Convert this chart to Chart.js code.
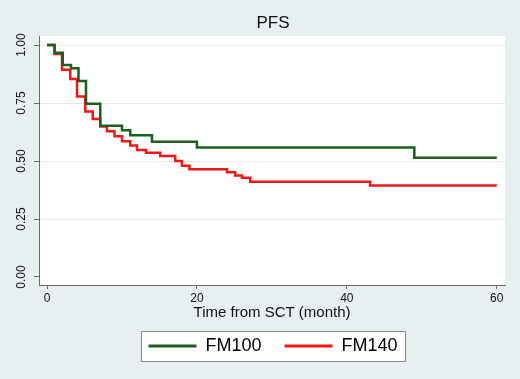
<!DOCTYPE html>
<html>
<head>
<meta charset="utf-8">
<title>PFS</title>
<script src="https://cdn.jsdelivr.net/npm/chart.js@4/dist/chart.umd.min.js"></script>
<style>
	html, body { margin: 0; padding: 0; background: #e8eff1; overflow: hidden; }
	#wrap { width: 520px; height: 379px; position: relative; }
</style>
</head>
<body>
<div id="wrap"><canvas id="chart-pfs"></canvas></div>
<script>
// Kaplan-Meier steps: month of each drop and survival right after it
const FM100_TIME = [0, 1, 2.1, 3.2, 4.2, 5.2, 7.1, 10, 11.1, 14, 20, 49, 60];
const FM100_SURV = [1, 0.967, 0.914, 0.9, 0.845, 0.747, 0.652, 0.633, 0.611, 0.583, 0.558, 0.514, 0.514];

const FM140_TIME = [0, 1, 2, 3.1, 4, 5.1, 6.1, 7.1, 8, 9, 10, 11.1, 12, 13.2, 15.1, 17.1, 18, 19, 24, 25.1, 26, 27.1, 43.1, 60];
const FM140_SURV = [1, 0.961, 0.893, 0.854, 0.778, 0.714, 0.681, 0.649, 0.628, 0.607, 0.585, 0.567, 0.548, 0.536, 0.522, 0.5, 0.48, 0.464, 0.452, 0.438, 0.428, 0.411, 0.395, 0.395];

const X_TICKS = [0, 20, 40, 60];
const Y_TICKS = [0, 0.25, 0.5, 0.75, 1];

const COLORS = {
	GREEN: "#1c5e1c",
	RED: "#f21616",
	TEXT: "#111111",
	AXIS: "#6a6a6a",
	GRID: "#e6eaec",
	BG: "#e8eff1",
	PLOT: "#ffffff",
};

Chart.defaults.font.family = '"Liberation Sans", Arial, Helvetica, sans-serif';
Chart.defaults.color = COLORS.TEXT;

const toPoints = (times, surv) => times.map((t, i) => ({ x: t, y: surv[i] }));

// Chart data
const DATA = {
	datasets: [
		{
			label: "FM100",
			data: toPoints(FM100_TIME, FM100_SURV),
			borderColor: COLORS.GREEN,
			backgroundColor: COLORS.GREEN,
			borderWidth: 2.5,
			stepped: true,
			pointRadius: 0,
			fill: false,
		},
		{
			label: "FM140",
			data: toPoints(FM140_TIME, FM140_SURV),
			borderColor: COLORS.RED,
			backgroundColor: COLORS.RED,
			borderWidth: 2.5,
			stepped: true,
			pointRadius: 0,
			fill: false,
		},
	],
};

// grey page, white plot region, framed legend
const backdrop = {
	id: "backdrop",
	beforeDraw(chart) {
		const { ctx, chartArea: a } = chart;
		ctx.save();
		ctx.fillStyle = COLORS.BG;
		ctx.fillRect(0, 0, chart.width, chart.height);
		ctx.fillStyle = COLORS.PLOT;
		ctx.fillRect(a.left, a.top, a.right - a.left, a.bottom - a.top);

		const boxes = chart.legend && chart.legend.legendHitBoxes;
		if (boxes && boxes.length) {
			const first = boxes[0];
			const last = boxes[boxes.length - 1];
			const cy = first.top + first.height / 2;
			const left = Math.round(first.left - 7) + 0.5;
			const right = Math.round(last.left + last.width + 7) + 0.5;
			ctx.fillStyle = "#ffffff";
			ctx.fillRect(left, cy - 15, right - left, 30);
			ctx.strokeStyle = "#8a8a8a";
			ctx.lineWidth = 1;
			ctx.strokeRect(left, Math.round(cy - 15) + 0.5, right - left, 30);
		}
		ctx.restore();
	},
};

// Chart config
const CONFIG = {
	type: "line",
	data: DATA,
	plugins: [backdrop],
	options: {
		responsive: true,
		maintainAspectRatio: false,
		animation: false,
		devicePixelRatio: 1,
		layout: {
			// negative right pad: title and legend centre on the plot, not the canvas
			padding: { left: 0, right: -26, top: 0, bottom: 14 },
		},
		plugins: {
			title: {
				display: true,
				text: "PFS",
				color: COLORS.TEXT,
				font: { size: 17, weight: "normal" },
				padding: { top: 13, bottom: 2.6 },
			},
			legend: {
				position: "bottom",
				labels: {
					boxWidth: 48,
					boxHeight: 3,
					padding: 23,
					color: COLORS.TEXT,
					font: { size: 18 },
					generateLabels: (chart) =>
						chart.data.datasets.map((ds, i) => ({
							text: ds.label,
							fillStyle: ds.borderColor,
							strokeStyle: ds.borderColor,
							lineWidth: 0,
							hidden: false,
							datasetIndex: i,
						})),
				},
			},
			tooltip: { enabled: false },
		},
		scales: {
			x: {
				type: "linear",
				min: -1.07,
				max: 61.1,
				afterBuildTicks: (scale) => {
					scale.ticks = X_TICKS.map((v) => ({ value: v }));
				},
				afterFit: (scale) => {
					scale.height = 29;
				},
				border: { color: COLORS.AXIS, width: 1 },
				grid: {
					drawOnChartArea: false,
					tickLength: 4,
					tickColor: COLORS.AXIS,
				},
				ticks: {
					padding: 2,
					maxRotation: 0,
					color: COLORS.TEXT,
					font: { size: 12 },
				},
				title: {
					display: true,
					text: "Time from SCT (month)",
					color: COLORS.TEXT,
					font: { size: 15 },
					padding: { top: 0, bottom: -8 },
				},
			},
			y: {
				min: -0.0345,
				max: 1.039,
				afterBuildTicks: (scale) => {
					scale.ticks = Y_TICKS.map((v) => ({ value: v }));
				},
				afterFit: (scale) => {
					scale.width = 39;
				},
				border: { color: COLORS.AXIS, width: 1 },
				grid: {
					color: (ctx) => (ctx.tick && ctx.tick.value === 0 ? "rgba(0,0,0,0)" : COLORS.GRID),
					tickLength: 5,
					tickColor: COLORS.AXIS,
				},
				ticks: {
					minRotation: 90,
					maxRotation: 90,
					crossAlign: "center",
					padding: 1,
					color: COLORS.TEXT,
					font: { size: 12 },
					callback: (v) => Number(v).toFixed(2),
				},
			},
			// empty strip right of the plot (partly off canvas)
			yRight: {
				position: "right",
				afterFit: (scale) => {
					scale.width = 41;
				},
				border: { display: false },
				grid: { display: false },
				ticks: { display: false },
			},
		},
	},
};

// Init chart
const WRAPPER = document.getElementById("chart-pfs");
if (WRAPPER) {
	new Chart(WRAPPER, CONFIG);
}
</script>
</body>
</html>
